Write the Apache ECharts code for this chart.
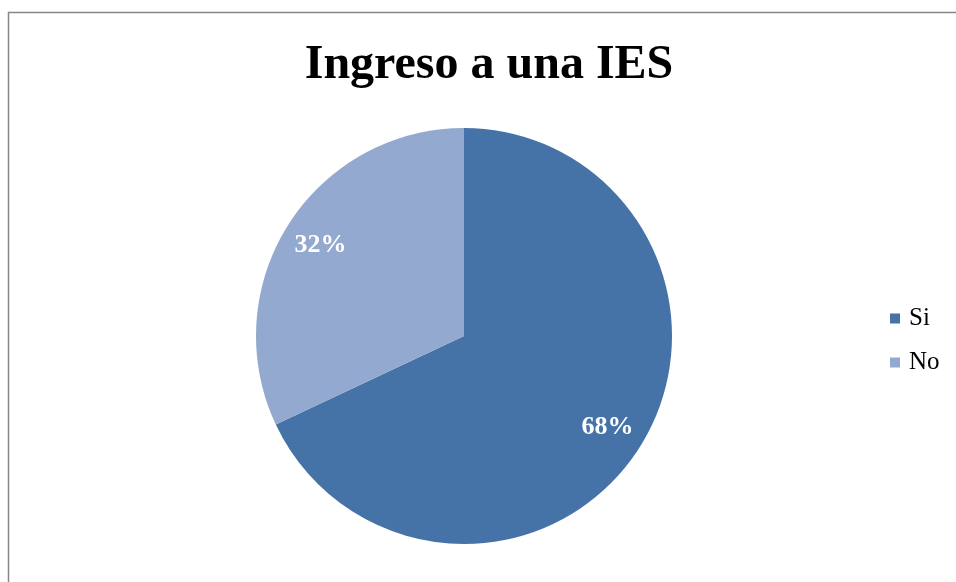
<!DOCTYPE html>
<html><head><meta charset="utf-8">
<script src="https://cdn.jsdelivr.net/npm/echarts@6/dist/echarts.min.js"></script>
<style>html,body{margin:0;padding:0;background:#fff}#c{width:956px;height:582px}</style>
</head><body><div id="c"></div>
<script>
const titleText = 'Ingreso a una IES';
const categories = ['Si', 'No'];
const values = [68, 32];
const colors = ['#4572A7', '#93A9CF'];

const chart = echarts.init(document.getElementById('c'));
const data = categories.map((n, i) => ({ name: n, value: values[i], itemStyle: { color: colors[i] } }));
chart.setOption({
  animation: false,
  backgroundColor: '#fff',
  graphic: [{ type: 'rect', shape: { x: 8.5, y: 12.5, width: 1000, height: 700 }, style: { fill: 'none', stroke: '#868686', lineWidth: 1.5 }, silent: true }],
  title: { text: titleText, left: 484, top: 37, textAlign: 'center',
    textStyle: { fontFamily: 'Liberation Serif', fontWeight: 'bold', fontSize: 48, color: '#000' } },
  legend: { orient: 'vertical', left: 885, top: 301, itemWidth: 10, itemHeight: 10, itemGap: 19, icon: 'rect',
    data: categories,
    textStyle: { fontFamily: 'Liberation Serif', fontSize: 25, color: '#000', padding: [0, 0, 0, 4] } },
  series: [
    { type: 'pie', center: [464, 336], radius: [0, 208], startAngle: 90, clockwise: true,
      data: data, label: { show: false }, labelLine: { show: false },
      itemStyle: { borderWidth: 0 }, emphasis: { disabled: true } },
    { type: 'pie', center: [464, 336], radius: [124, 210], startAngle: 90, clockwise: true, silent: true,
      data: categories.map((n, i) => ({ name: n, value: values[i], itemStyle: { color: 'rgba(0,0,0,0)' } })),
      itemStyle: { borderWidth: 0 },
      label: { show: true, position: 'inside', formatter: '{c}%', color: '#fff',
        fontFamily: 'Liberation Serif', fontWeight: 'bold', fontSize: 26 },
      labelLine: { show: false }, emphasis: { disabled: true } }
  ]
});
</script></body></html>
